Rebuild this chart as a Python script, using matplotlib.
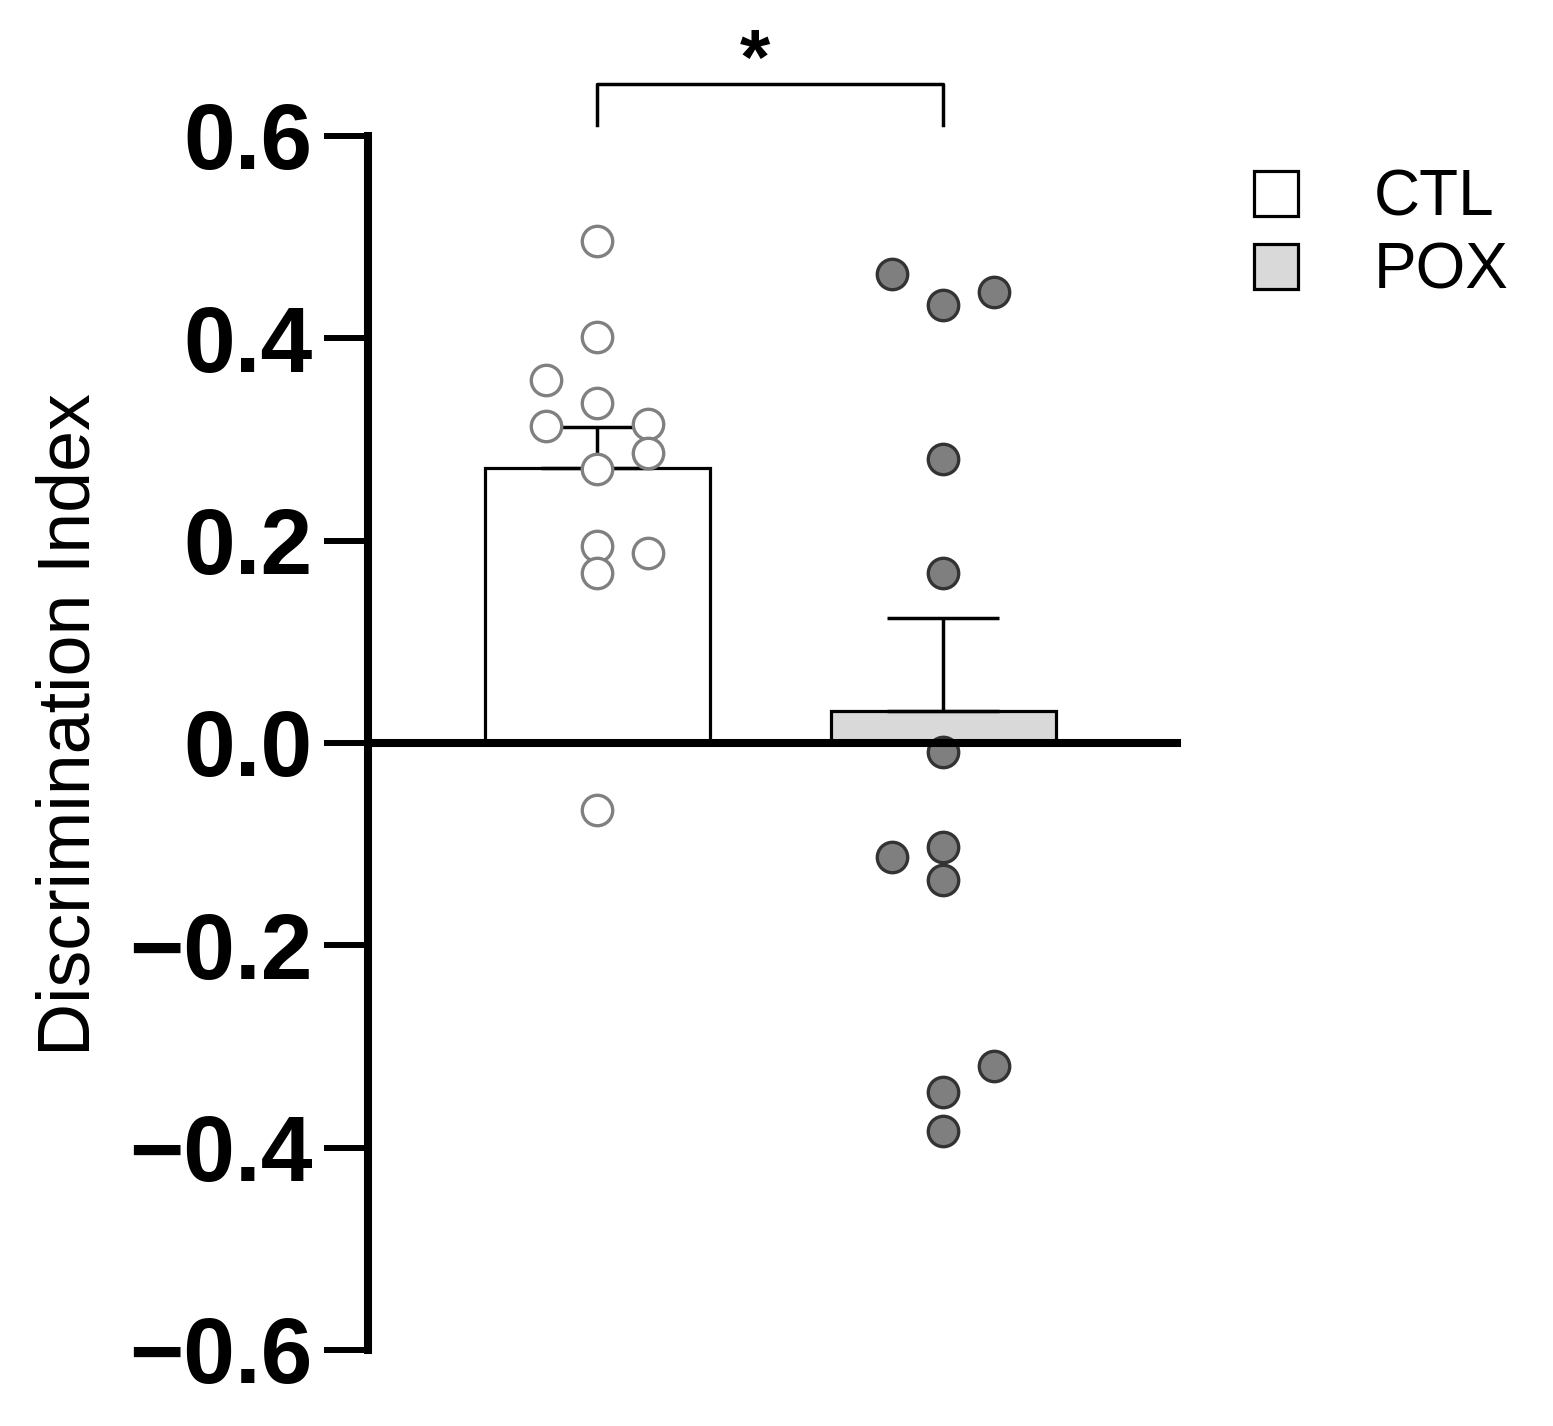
import numpy as np
import matplotlib
matplotlib.use("Agg")
import matplotlib.pyplot as plt
from matplotlib.patches import Patch

plt.rcParams['font.family'] = ['Liberation Sans', 'DejaVu Sans']

groups = ["CTL", "POX"]
ctl_vals = [0.496, 0.401, 0.359, 0.336, 0.313, 0.315, 0.287, 0.271, 0.195, 0.168, 0.188, -0.066]
pox_vals = [0.464, 0.433, 0.446, 0.281, 0.168, -0.009, -0.113, -0.103, -0.135, -0.319, -0.345, -0.384]
# horizontal scatter of the dots (column of the dot plot: -1 left, 0 centre, 1 right)
ctl_cols = [0, 0, -1, 0, -1, 1, 1, 0, 0, 0, 1, 0]
pox_cols = [-1, 0, 1, 0, 0, 0, -1, 0, 0, 1, 0, 0]
yticks = [-0.6, -0.4, -0.2, 0.0, 0.2, 0.4, 0.6]
sig_label = "*"

fig = plt.figure(figsize=(15.53, 14.26), dpi=100)
ax = fig.add_axes([368 / 1553, 1 - 1350 / 1426, (1177 - 368) / 1553, (1350 - 136) / 1426])

data = [np.array(ctl_vals), np.array(pox_vals)]
means = [d.mean() for d in data]
sems = [d.std(ddof=1) / np.sqrt(len(d)) for d in data]
xpos = [0, 1]
faces = ["white", "#d9d9d9"]

for i in range(2):
    ax.bar(xpos[i], means[i], width=0.65, color=faces[i], edgecolor="black",
           linewidth=2.3, zorder=1)
    ax.errorbar(xpos[i], means[i], yerr=[[0], [sems[i]]], fmt="none", ecolor="black",
                elinewidth=2.5, capsize=40, capthick=2.5, zorder=1.5)

dx = 0.147
ax.scatter(np.array(ctl_cols) * dx + xpos[0], ctl_vals, s=480, facecolor="white",
           edgecolor="#808080", linewidth=2.4, zorder=2)
ax.scatter(np.array(pox_cols) * dx + xpos[1], pox_vals, s=480, facecolor="#7f7f7f",
           edgecolor="#333333", linewidth=2.4, zorder=2)

# significance bracket
ax.plot([0, 0, 1, 1], [0.611, 0.651, 0.651, 0.611], color="black", lw=2.5,
        clip_on=False)
ax.text(0.455, 0.636, sig_label, ha="center", va="bottom", fontsize=56, fontweight="bold")

ax.set_xlim(-0.662, 1.676)
ax.set_ylim(-0.6, 0.6)
ax.spines['top'].set_visible(False)
ax.spines['right'].set_visible(False)
ax.spines['bottom'].set_position(('data', 0))
ax.spines['bottom'].set_linewidth(5.8)
ax.spines['left'].set_linewidth(5.8)
ax.spines['left'].set_bounds(-0.6, 0.6)
ax.set_xticks([])
ax.set_yticks(yticks)
ax.set_yticklabels([f"{t:.1f}".replace("-", "\u2212") if t != 0 else "0.0" for t in yticks])
ax.tick_params(axis='y', length=32, width=4.3, pad=8, labelsize=67)
for lab in ax.get_yticklabels():
    lab.set_fontweight("bold")

fig.text(70 / 1553, 1 - 725 / 1426, "Discrimination Index", rotation=90,
         fontsize=53, ha="center", va="center")

handles = [Patch(facecolor=faces[i], edgecolor="black", linewidth=2.3) for i in range(2)]
fig.legend(handles, groups, loc="upper left", bbox_to_anchor=(1254 / 1553, 1 - 169 / 1426),
           frameon=False, fontsize=46, handlelength=0.69, handleheight=0.69,
           handletextpad=1.18, labelspacing=0.2, borderpad=0, borderaxespad=0)

fig.savefig("out.png", dpi=100)
